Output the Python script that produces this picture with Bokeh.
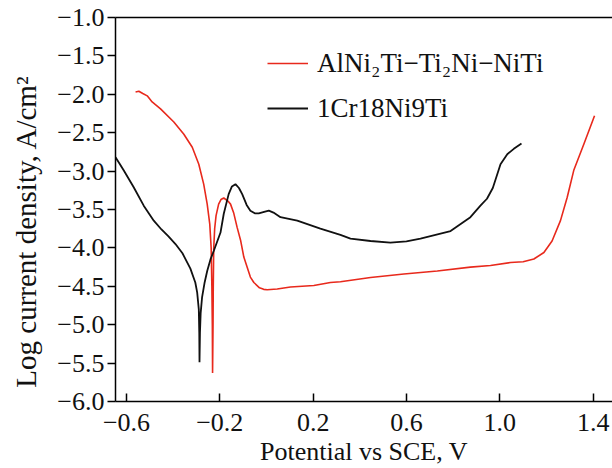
from bokeh.plotting import figure
from bokeh.models import Range1d, FixedTicker, CustomJSTickFormatter, LinearAxis, Legend, LegendItem
from bokeh.embed import file_html
from bokeh.resources import INLINE

# AlNi2Ti–Ti2Ni–NiTi curve
red_v = [-0.561, -0.547, -0.530, -0.511, -0.490, -0.454, -0.397, -0.354, -0.318, -0.290,
         -0.269, -0.254, -0.243, -0.237, -0.234, -0.232, -0.231, -0.229, -0.228, -0.226,
         -0.222, -0.216, -0.205, -0.195, -0.183, -0.165, -0.154, -0.140, -0.126, -0.111,
         -0.097, -0.083, -0.069, -0.054, -0.030, -0.012, 0.003, 0.046, 0.103, 0.203,
         0.274, 0.317, 0.446, 0.589, 0.732, 0.874, 0.960, 1.046, 1.100, 1.146,
         1.189, 1.224, 1.260, 1.289, 1.317, 1.360, 1.406]
red_logi = [-1.97, -1.96, -1.99, -2.02, -2.10, -2.19, -2.36, -2.52, -2.69, -2.91,
            -3.17, -3.43, -3.69, -4.00, -4.50, -5.00, -5.63, -5.00, -4.50, -4.00,
            -3.75, -3.58, -3.43, -3.37, -3.35, -3.39, -3.43, -3.55, -3.73, -3.90,
            -4.12, -4.25, -4.38, -4.45, -4.52, -4.54, -4.545, -4.535, -4.51, -4.49,
            -4.45, -4.44, -4.385, -4.34, -4.30, -4.25, -4.23, -4.19, -4.18, -4.145,
            -4.06, -3.91, -3.645, -3.34, -2.99, -2.65, -2.28]

# 1Cr18Ni9Ti curve
blk_v = [-0.647, -0.630, -0.612, -0.569, -0.526, -0.483, -0.450, -0.420, -0.390, -0.360,
         -0.326, -0.305, -0.297, -0.290, -0.288, -0.287, -0.285, -0.282, -0.276, -0.265,
         -0.254, -0.240, -0.226, -0.197, -0.183, -0.162, -0.148, -0.133, -0.118, -0.104,
         -0.085, -0.069, -0.050, -0.033, -0.010, 0.010, 0.030, 0.060, 0.132, 0.231,
         0.317, 0.360, 0.446, 0.531, 0.600, 0.660, 0.789, 0.874, 0.917, 0.945,
         0.970, 0.985, 1.003, 1.032, 1.060, 1.093]
blk_logi = [-2.82, -2.90, -2.99, -3.21, -3.45, -3.645, -3.76, -3.85, -3.95, -4.07,
            -4.27, -4.45, -4.58, -4.80, -5.10, -5.49, -5.10, -4.85, -4.645, -4.45,
            -4.30, -4.15, -4.04, -3.80, -3.555, -3.30, -3.20, -3.17, -3.22, -3.30,
            -3.44, -3.515, -3.55, -3.55, -3.53, -3.515, -3.54, -3.60, -3.645, -3.75,
            -3.83, -3.88, -3.91, -3.93, -3.915, -3.88, -3.78, -3.60, -3.45, -3.36,
            -3.22, -3.08, -2.91, -2.78, -2.71, -2.64]

x_ticks = [-0.6, -0.2, 0.2, 0.6, 1.0, 1.4]
y_ticks = [-6.0, -5.5, -5.0, -4.5, -4.0, -3.5, -3.0, -2.5, -2.0, -1.5, -1.0]
series_names = ["AlNi\u2082Ti\u2212Ti\u2082Ni\u2212NiTi", "1Cr18Ni9Ti"]
series_colors = ["#e8291c", "#111111"]

FONT = "Liberation Serif"

p = figure(width=612, height=468, output_backend="svg", toolbar_location=None,
           x_range=Range1d(-0.647, 1.483), y_range=Range1d(-6.0, -1.0),
           min_border_left=115, min_border_right=0, min_border_top=17, min_border_bottom=67,
           outline_line_color=None, background_fill_color="white", border_fill_color="white")
p.grid.visible = False

fmt = CustomJSTickFormatter(code="""
    const s = Math.abs(tick).toFixed(1);
    return (tick < 0 ? '\\u2212' : '') + s;
""")

xa = p.xaxis[0]
xa.ticker = FixedTicker(ticks=x_ticks)
xa.formatter = fmt
xa.axis_label = "Potential vs SCE, V"
ya = p.yaxis[0]
ya.ticker = FixedTicker(ticks=y_ticks)
ya.formatter = fmt
ya.axis_label = "Log current density, A/cm\u00b2" + "\u00a0" * 6

for ax in (xa, ya):
    ax.axis_line_color = "black"
    ax.axis_line_width = 1.5
    ax.major_tick_line_color = "black"
    ax.major_tick_line_width = 1.5
    ax.minor_tick_line_color = None
    ax.major_label_text_font = FONT
    ax.major_label_text_font_size = "26px"
    ax.major_label_text_color = "#111111"
    ax.axis_label_text_font = FONT
    ax.axis_label_text_font_style = "normal"
    ax.axis_label_text_color = "#111111"

xa.axis_label_text_font_size = "26px"
ya.axis_label_text_font_size = "29px"
xa.major_tick_in = 8
xa.major_tick_out = 0
xa.major_label_standoff = 12
xa.axis_label_standoff = 3
ya.major_tick_in = 0
ya.major_tick_out = 8
ya.major_label_standoff = 3
ya.axis_label_standoff = 12

top = LinearAxis(ticker=FixedTicker(ticks=[]), major_label_text_font_size="0px",
                 axis_line_color="black", axis_line_width=1.5,
                 major_tick_line_color=None, minor_tick_line_color=None)
p.add_layout(top, "above")

r1 = p.line(red_v, red_logi, line_color=series_colors[0], line_width=1.6)
r2 = p.line(blk_v, blk_logi, line_color=series_colors[1], line_width=1.8)

legend = Legend(items=[LegendItem(label=series_names[0], renderers=[r1]),
                       LegendItem(label=series_names[1], renderers=[r2])],
                location=(152, 273), padding=0, margin=0, spacing=5,
                glyph_width=41, glyph_height=40, label_height=40, label_standoff=9,
                label_text_font=FONT, label_text_font_size="27px", label_text_color="#111111",
                border_line_color=None, background_fill_alpha=0)
p.add_layout(legend, "center")

open("out.html", "w").write(file_html(p, INLINE))
